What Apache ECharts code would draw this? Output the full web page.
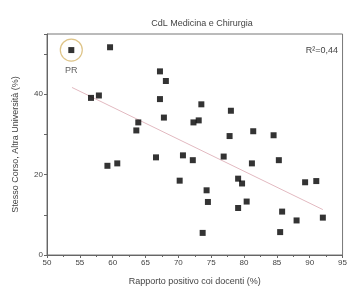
<!DOCTYPE html>
<html>
<head>
<meta charset="utf-8">
<script src="https://cdn.jsdelivr.net/npm/echarts@6/dist/echarts.min.js"></script>
<style>
  html, body { margin: 0; padding: 0; background: #fff; }
  #main { width: 350px; height: 291px; }
</style>
</head>
<body>
<div id="main"></div>
<script>
// Rapporto positivo coi docenti (%) vs Stesso Corso, Altra Universita (%)
const xValues = [59.6, 67.2, 68.1, 56.7, 57.9, 67.2, 67.8, 63.9, 63.6, 73.5,
                 78.0, 72.3, 73.1, 77.8, 81.4, 84.5, 59.2, 60.7, 66.6, 70.7,
                 70.2, 72.2, 76.9, 81.2, 85.3, 74.3, 74.5, 79.1, 79.7, 79.1,
                 80.4, 73.7, 85.5, 85.8, 88.0, 89.3, 91.0, 92.0];
const yValues = [51.7, 45.7, 43.3, 39.1, 39.7, 38.8, 34.2, 33.0, 31.0, 37.5,
                 35.9, 33.0, 33.5, 29.6, 30.8, 29.8, 22.2, 22.8, 24.3, 24.8,
                 18.5, 23.6, 24.5, 22.8, 23.6, 16.1, 13.2, 19.0, 17.8, 11.7,
                 13.3, 5.5, 5.7, 10.8, 8.6, 18.1, 18.4, 9.3];
// highlighted point (PR)
const prPoint = [53.7, 51.0];
// linear fit endpoints
const fitX = [53.8, 92.0];
const fitY = [41.7, 11.3];
const xTicks = [50, 55, 60, 65, 70, 75, 80, 85, 90, 95];
const yTicks = [0, 20, 40];

const font = 'Liberation Sans, Arial, sans-serif';
const points = xValues.map((x, i) => [x, yValues[i]]);
const fitLine = fitX.map((x, i) => [x, fitY[i]]);

var chart = echarts.init(document.getElementById('main'));
var option = {
    animation: false,
    title: {
        text: 'CdL Medicina e Chirurgia',
        left: 197,
        textAlign: 'center',
        top: 14,
        textStyle: { fontFamily: font, fontSize: 9, fontWeight: 'normal', color: '#444' }
    },
    grid: {
        left: 47, right: 2, top: 34, bottom: 35,
        show: true, borderColor: '#777', borderWidth: 1
    },
    xAxis: {
        type: 'value',
        min: 50, max: 95, interval: 5,
        name: 'Rapporto positivo coi docenti (%)',
        nameLocation: 'middle',
        nameGap: 22,
        nameTextStyle: { fontFamily: font, fontSize: 9, color: '#444' },
        axisLine: { show: true, lineStyle: { color: '#666' } },
        axisTick: { show: true, length: 3, lineStyle: { color: '#666' } },
        minorTick: { show: true, splitNumber: 2, length: 2, lineStyle: { color: '#666' } },
        splitLine: { show: false },
        axisLabel: {
            fontFamily: font, fontSize: 8, color: '#444', margin: 4,
            formatter: v => xTicks.includes(v) ? String(v) : ''
        }
    },
    yAxis: {
        type: 'value',
        min: 0, max: 55, interval: 10,
        name: 'Stesso Corso, Altra Università (%)',
        nameLocation: 'middle',
        nameGap: 27,
        nameTextStyle: { fontFamily: font, fontSize: 9, color: '#444' },
        axisLine: { show: true, lineStyle: { color: '#666' } },
        axisTick: { show: true, length: 3, lineStyle: { color: '#666' } },
        splitLine: { show: false },
        axisLabel: {
            fontFamily: font, fontSize: 8, color: '#444', margin: 4,
            formatter: v => yTicks.includes(v) ? String(v) : ''
        }
    },
    graphic: [{
        type: 'text',
        right: 12,
        top: 46,
        style: { text: 'R²=0,44', font: '9px ' + font, fill: '#444' }
    }],
    series: [
        {
            type: 'line',
            data: fitLine,
            symbol: 'none',
            lineStyle: { color: '#e2b9c0', width: 1 },
            z: 1
        },
        {
            type: 'scatter',
            data: points,
            symbol: 'rect',
            symbolSize: 6,
            itemStyle: { color: '#000' },
            z: 3
        },
        {
            type: 'scatter',
            data: [prPoint],
            symbol: 'rect',
            symbolSize: 6,
            itemStyle: { color: '#000' },
            label: {
                show: true, position: 'bottom', distance: 13,
                formatter: 'PR',
                fontFamily: font, fontSize: 9, color: '#333'
            },
            z: 3
        },
        {
            type: 'scatter',
            data: [prPoint],
            symbol: 'circle',
            symbolSize: 22,
            itemStyle: { color: 'transparent', borderColor: '#d6b56a', borderWidth: 1.2 },
            silent: true,
            z: 2
        }
    ]
};
chart.setOption(option);
</script>
</body>
</html>
